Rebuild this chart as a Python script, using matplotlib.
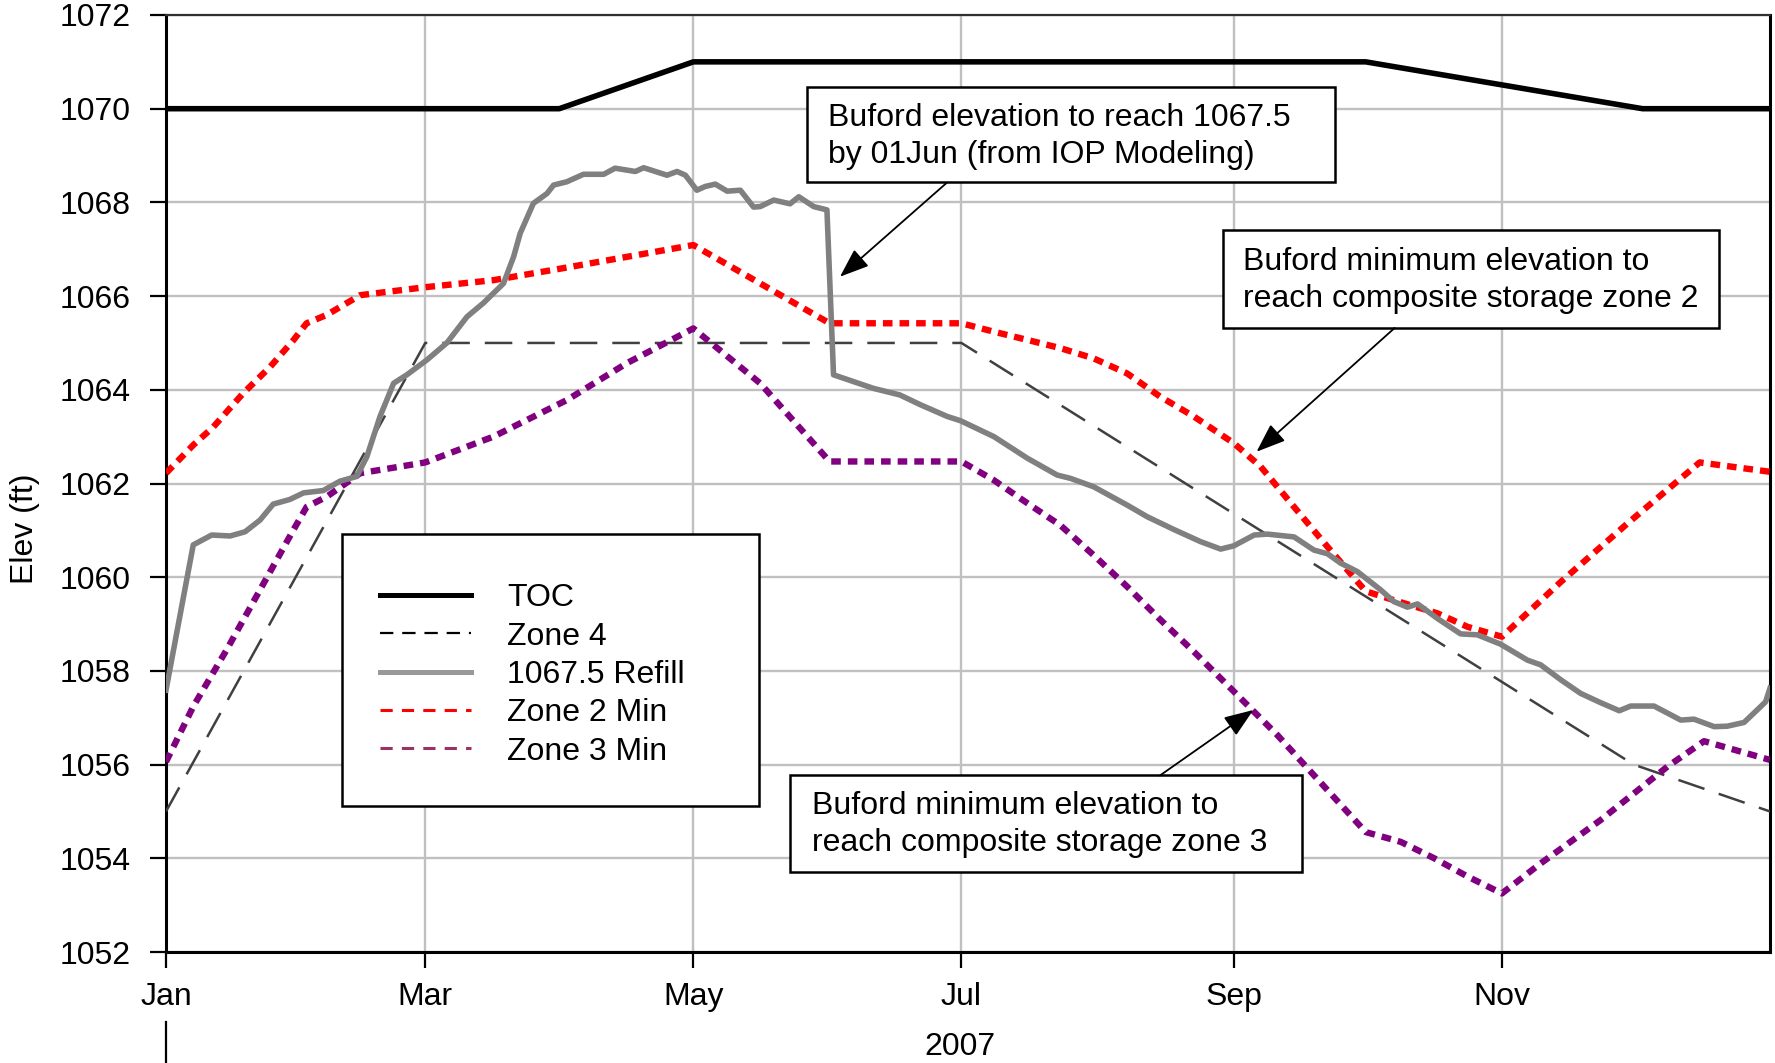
import numpy as np
import pandas as pd
import matplotlib
matplotlib.use('Agg')
from matplotlib import pyplot as plt
from matplotlib.lines import Line2D
from matplotlib.patches import Rectangle

plt.rcParams['font.family'] = ['Liberation Sans', 'DejaVu Sans']

# day of year 2007 (0 = 01Jan) and elevation (ft)
toc_days = [0, 89.5, 120, 273, 336, 365]
toc_elev = [1070, 1070, 1071, 1071, 1070, 1070]

zone4_days = [0, 59, 181, 334, 365]
zone4_elev = [1055, 1065, 1065, 1056, 1055]

refill_days = [0, 6.2, 10.4, 14.6, 18, 21.4, 24.4, 28.2, 31.3, 35.8, 39.6, 43.4, 45.7, 48.7,
               51.8, 54.8, 59.4, 63.9, 68.5, 72.2, 76.8, 79.1, 80.6, 83.6, 86.7, 88.2, 91.2,
               95, 99.6, 102.2, 106.8, 108.7, 114, 116.3, 118.2, 120.8, 122.7, 125, 127.7,
               130.7, 133.7, 135.2, 138.3, 142, 144, 147.4, 150.4, 151.9, 161, 167, 171.7,
               177.8, 180.8, 188.4, 196, 202.8, 205.8, 211.1, 218.7, 223.3, 229.3, 235.4,
               240, 243, 247.6, 250.6, 256.7, 261.2, 264.3, 267.3, 271.1, 276.4, 279.4,
               282.5, 284.8, 289.3, 294.6, 298.4, 303.7, 309.8, 312.8, 317.4, 321.9, 326.5,
               330.7, 333.3, 338.6, 344.7, 347.7, 352.3, 355.3, 359.1, 362.9, 364, 365]
refill_elev = [1057.59, 1060.69, 1060.90, 1060.88, 1060.97, 1061.22, 1061.56, 1061.66, 1061.80,
               1061.85, 1062.05, 1062.15, 1062.57, 1063.43, 1064.14, 1064.32, 1064.64, 1065.00,
               1065.56, 1065.85, 1066.27, 1066.84, 1067.34, 1067.98, 1068.19, 1068.37, 1068.44,
               1068.60, 1068.60, 1068.73, 1068.66, 1068.74, 1068.58, 1068.66, 1068.58, 1068.26,
               1068.34, 1068.39, 1068.24, 1068.26, 1067.90, 1067.91, 1068.05, 1067.97, 1068.12,
               1067.91, 1067.84, 1064.32, 1064.03, 1063.89, 1063.68, 1063.43, 1063.34, 1063.00,
               1062.54, 1062.18, 1062.11, 1061.93, 1061.54, 1061.29, 1061.02, 1060.76, 1060.60,
               1060.67, 1060.90, 1060.92, 1060.86, 1060.58, 1060.50, 1060.30, 1060.12, 1059.73,
               1059.48, 1059.36, 1059.43, 1059.12, 1058.79, 1058.77, 1058.57, 1058.23, 1058.13,
               1057.81, 1057.52, 1057.32, 1057.15, 1057.25, 1057.25, 1056.95, 1056.97, 1056.81,
               1056.82, 1056.90, 1057.24, 1057.34, 1057.63]

zone2_days = [0, 6.2, 10.8, 17.6, 23.7, 29, 32, 36.6, 44.2, 59, 74.5, 90, 120, 151, 181, 188.4,
              197.5, 203.5, 211.1, 218.7, 226.3, 233.9, 243, 249.1, 256.7, 264.3, 273, 279.4,
              289.3, 296.2, 304, 317.4, 332.6, 349, 365]
zone2_elev = [1062.22, 1062.82, 1063.21, 1063.93, 1064.49, 1065.06, 1065.42, 1065.60, 1066.02,
              1066.19, 1066.34, 1066.59, 1067.09, 1065.42, 1065.42, 1065.24, 1065.03, 1064.89,
              1064.67, 1064.35, 1063.85, 1063.43, 1062.86, 1062.36, 1061.50, 1060.65, 1059.70,
              1059.51, 1059.23, 1058.94, 1058.73, 1059.90, 1061.15, 1062.45, 1062.25]

zone3_days = [0, 6.2, 13.8, 21.4, 29, 32, 36.6, 44.2, 59, 74.5, 91.2, 104.9, 120, 135.2, 151,
              181, 188.4, 196, 203.5, 211.1, 218.7, 226.3, 233.9, 243, 252.9, 273, 281, 288.6,
              296.2, 304, 312.8, 326.5, 341.7, 350, 365]
zone3_elev = [1056.06, 1057.24, 1058.45, 1059.73, 1061.01, 1061.50, 1061.72, 1062.22, 1062.45,
              1063.00, 1063.78, 1064.57, 1065.31, 1064.14, 1062.47, 1062.47, 1062.07, 1061.58,
              1061.11, 1060.47, 1059.80, 1059.09, 1058.41, 1057.56, 1056.63, 1054.56, 1054.35,
              1054.00, 1053.61, 1053.25, 1053.89, 1054.82, 1055.96, 1056.50, 1056.10]

tick_months = ['2007-01-01', '2007-03-01', '2007-05-01', '2007-07-01', '2007-09-01', '2007-11-01']
tick_labels = ['Jan', 'Mar', 'May', 'Jul', 'Sep', 'Nov']
y_ticks = list(range(1052, 1073, 2))

start = pd.Timestamp('2007-01-01')
FS = 23


def to_dates(days):
    return start + pd.to_timedelta(np.array(days, dtype=float), unit='D')


fig = plt.figure(figsize=(17.75, 10.63), dpi=100)
ax = fig.add_axes([0.09352, 0.10442, 0.90366, 0.88147])

ax.plot(to_dates(toc_days), toc_elev, color='black', lw=4.0, zorder=3)
ax.plot(to_dates(zone4_days), zone4_elev, color='#404040', lw=1.8, dashes=(11, 6), zorder=3)
ax.plot(to_dates(zone2_days), zone2_elev, color='red', lw=4.6, dashes=(1.5, 1.1), zorder=3)
ax.plot(to_dates(zone3_days), zone3_elev, color='#800080', lw=4.6, dashes=(1.5, 1.1), zorder=3)
ax.plot(to_dates(refill_days), refill_elev, color='#808080', lw=4.0, zorder=4)

ax.set_xlim(start, pd.Timestamp('2008-01-01'))
ax.set_ylim(1052, 1072)
ax.set_xticks([pd.Timestamp(m) for m in tick_months])
ax.set_xticklabels(tick_labels)
ax.set_yticks(y_ticks)
ax.grid(True, color='#c0c0c0', lw=1.7, zorder=0)
ax.set_axisbelow(True)
ax.tick_params(axis='both', direction='out', length=11.5, width=1.6, labelsize=FS, colors='black')
ax.tick_params(axis='y', pad=14)
ax.tick_params(axis='x', pad=10)
for s in ['left', 'bottom', 'right']:
    ax.spines[s].set_linewidth(2.2)
    ax.spines[s].set_color('black')
ax.spines['top'].set_linewidth(1.6)
ax.spines['top'].set_color('#303030')

ax.text(-0.088, 0.4515, 'Elev (ft)', transform=ax.transAxes, rotation=90,
        ha='center', va='center', fontsize=FS)
ax.text(0.495, -0.101, '2007', transform=ax.transAxes, ha='center', va='center', fontsize=FS)
ax.add_line(Line2D([0, 0], [-0.0745, -0.12], transform=ax.transAxes, color='black',
                   lw=1.6, clip_on=False))

# legend box
ax.add_patch(Rectangle((0.110, 0.156), 0.2597, 0.290, transform=ax.transAxes,
                       facecolor='white', edgecolor='black', lw=1.8, zorder=5))
handles = [Line2D([], [], color='black', lw=3.6),
           Line2D([], [], color='black', lw=1.6, dashes=(6, 4)),
           Line2D([], [], color='#999999', lw=3.6),
           Line2D([], [], color='red', lw=2.2, dashes=(4, 3)),
           Line2D([], [], color='#993366', lw=2.2, dashes=(4, 3))]
labels = ['TOC', 'Zone 4', '1067.5 Refill', 'Zone 2 Min', 'Zone 3 Min']
leg = ax.legend(handles, labels, loc='upper left', bbox_to_anchor=(0.1334, 0.3935),
                frameon=False, fontsize=FS, borderpad=0, borderaxespad=0,
                handlelength=2.84, handletextpad=1.13, labelspacing=0.26)
leg.set_zorder(6)

# annotation boxes (axes fraction)
boxes = [((0.3996, 0.8218), 0.3292, 0.1014, (0.4127, 0.8704),
          'Buford elevation to reach 1067.5\nby 01Jun (from IOP Modeling)',
          (0.4866, 0.8207), (0.4202, 0.7207)),
         ((0.6587, 0.6663), 0.3097, 0.1042, (0.6714, 0.7164),
          'Buford minimum elevation to\nreach composite storage zone 2',
          (0.7660, 0.6660), (0.6799, 0.5339)),
         ((0.3890, 0.0857), 0.3192, 0.1027, (0.4026, 0.1359),
          'Buford minimum elevation to\nreach composite storage zone 3',
          (0.6197, 0.1884), (0.6779, 0.2583))]
for xy, w, h, txy, txt, a0, a1 in boxes:
    ax.add_patch(Rectangle(xy, w, h, transform=ax.transAxes, facecolor='white',
                           edgecolor='black', lw=1.8, zorder=5))
    ax.text(txy[0], txy[1], txt, transform=ax.transAxes, ha='left', va='center',
            fontsize=FS, linespacing=1.3, zorder=6)
    ax.annotate('', xy=a1, xytext=a0, xycoords='axes fraction', textcoords='axes fraction',
                arrowprops=dict(arrowstyle='-|>,head_length=0.45,head_width=0.17',
                                mutation_scale=40, lw=1.3, color='black',
                                shrinkA=0, shrinkB=0), zorder=6)

fig.savefig('out.png', dpi=100)
